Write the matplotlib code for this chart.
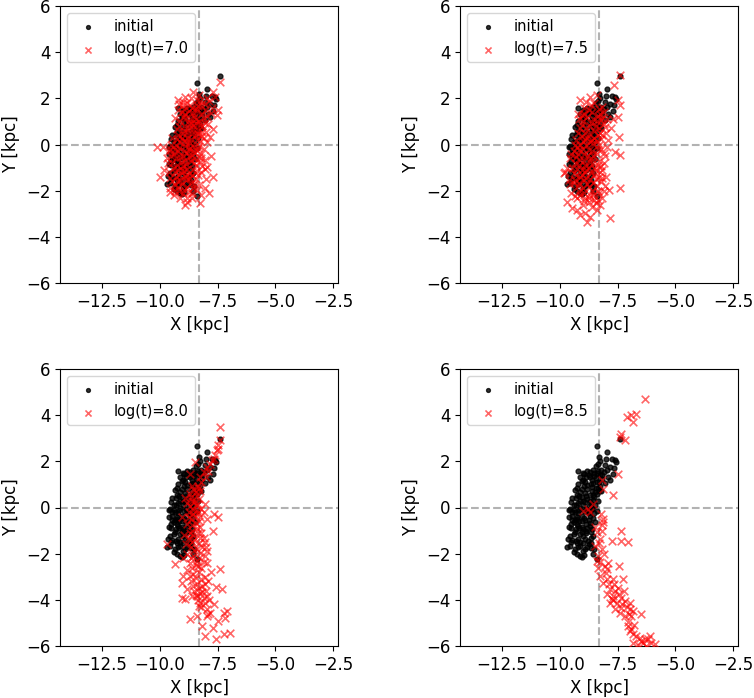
import matplotlib
matplotlib.use("Agg")
import matplotlib.pyplot as plt

plt.rcParams["font.size"] = 12

# position du Soleil
x_sun = -8.3

# positions initiales (communes aux 4 panneaux)
initial_pts = [
    (-7.40, 2.96), (-8.37, 2.67), (-7.97, 2.41), (-8.29, 2.19), (-7.59, 2.07), (-7.57, 1.97),
    (-7.76, 2.12), (-8.26, 2.01), (-8.33, 1.90), (-7.83, 1.75), (-7.66, 1.71), (-8.05, 1.85),
    (-8.45, 1.78), (-8.20, 1.62), (-9.19, 1.60), (-8.83, 1.60), (-8.69, 1.55), (-8.54, 1.62),
    (-8.40, 1.50), (-8.10, 1.55), (-7.95, 1.62), (-8.00, 2.10),
    (-7.69, 1.46), (-7.93, 1.32), (-7.83, 1.17), (-8.19, 1.25), (-9.11, 1.32), (-8.97, 1.17),
    (-9.19, 1.03), (-8.83, 0.96), (-8.50, 1.35), (-8.30, 1.10), (-8.62, 1.20), (-8.05, 1.05),
    (-8.75, 1.40), (-8.95, 1.45), (-8.42, 1.28), (-8.15, 1.40), (-8.55, 1.05), (-8.25, 1.42),
    (-9.04, 0.81), (-8.61, 0.88), (-8.47, 0.67), (-8.69, 0.52), (-9.26, 0.52), (-8.90, 0.62),
    (-8.35, 0.85), (-8.20, 0.72), (-8.80, 0.78), (-9.10, 0.65), (-8.55, 0.55), (-8.40, 0.58),
    (-8.95, 0.92), (-9.35, 0.75), (-8.25, 0.95),
    (-9.11, 0.30), (-9.40, 0.09), (-8.97, 0.09), (-8.47, 0.09), (-9.20, 0.20), (-8.80, 0.35),
    (-8.65, 0.15), (-9.30, 0.40), (-8.90, 0.25), (-8.55, 0.32), (-9.05, 0.45), (-9.50, 0.25),
    (-8.35, 0.30), (-8.75, 0.05),
    (-9.54, -0.06), (-9.33, -0.20), (-9.47, -0.35), (-9.04, -0.35), (-8.83, -0.20), (-8.61, -0.06),
    (-9.15, -0.10), (-8.95, -0.45), (-8.70, -0.38), (-9.25, -0.42), (-8.50, -0.25), (-9.60, -0.40),
    (-8.85, -0.05), (-9.40, -0.10), (-8.40, -0.15),
    (-9.26, -0.49), (-9.61, -0.86), (-9.40, -0.64), (-9.19, -0.78), (-8.97, -0.93), (-8.69, -0.78),
    (-8.47, -0.64), (-9.50, -0.70), (-9.05, -0.60), (-8.85, -0.70), (-8.60, -0.95), (-9.30, -0.95),
    (-8.75, -0.55), (-9.45, -0.55), (-9.15, -0.90),
    (-9.40, -1.14), (-9.19, -1.36), (-8.97, -1.22), (-8.76, -1.43), (-8.54, -1.22), (-9.55, -1.25),
    (-9.05, -1.05), (-8.85, -1.10), (-9.30, -1.45), (-8.65, -1.05), (-9.10, -1.48), (-9.45, -1.40),
    (-9.54, -1.65), (-9.33, -1.80), (-9.11, -1.65), (-8.90, -1.80), (-9.40, -1.94), (-9.11, -2.09),
    (-9.04, -2.16), (-8.54, -2.01), (-8.40, -2.23), (-9.25, -1.55), (-8.75, -1.60), (-9.00, -1.90),
    (-9.68, -1.70), (-8.65, -1.75),
    (-9.00, 1.50), (-8.85, 1.30), (-8.65, 1.00), (-8.45, 0.85), (-8.30, 0.70), (-8.70, 1.30),
    (-9.05, 1.15), (-8.40, 1.10), (-9.25, 0.85), (-9.15, 0.50), (-8.85, 0.50), (-8.60, 0.70),
    (-8.50, 0.45), (-9.30, 0.10), (-9.00, 0.30), (-8.70, 0.30), (-8.60, 0.00), (-9.45, -0.20),
    (-9.20, -0.25), (-8.95, -0.15), (-8.75, -0.25), (-8.55, -0.45), (-9.35, -0.55), (-9.15, -0.60),
    (-8.90, -0.55), (-8.70, -0.65), (-9.50, -0.90), (-9.25, -0.70), (-9.05, -0.85), (-8.80, -0.90),
    (-9.35, -1.05), (-9.10, -1.15), (-8.90, -1.35), (-8.65, -1.30), (-9.50, -1.50), (-9.20, -1.70),
    (-9.00, -1.55), (-8.80, -1.70), (-9.25, -2.00), (-8.95, -2.05), (-9.60, -0.10), (-9.65, -1.35),
    (-8.50, 1.50), (-8.35, 1.60), (-8.90, 1.10), (-9.10, 0.00), (-8.85, -1.00), (-9.45, 0.40),
    (-8.65, -1.55), (-8.50, -1.80),
]

pts_7_0 = [
    (-10.12, -0.10), (-9.87, -0.10), (-9.97, -1.40), (-9.57, -1.90), (-9.40, -2.19), (-8.83, -2.48),
    (-8.90, -2.63), (-8.25, -2.55), (-8.03, -1.90), (-7.85, -2.12), (-7.68, -1.40), (-7.97, -0.96),
    (-8.03, -0.68), (-7.82, 0.32), (-7.68, 0.68), (-7.54, 1.27), (-7.46, 1.49), (-7.61, 2.07),
    (-7.68, 2.29), (-7.39, 2.72), (-9.19, 1.92), (-9.33, 1.13), (-9.26, 0.69), (-8.54, 2.29),
    (-8.40, 1.92), (-9.70, -0.60), (-9.80, -1.10), (-9.55, -2.05), (-8.20, -2.20), (-7.80, -0.50),
    (-7.90, 0.90), (-7.75, 1.60), (-9.45, 0.30), (-9.60, -0.30), (-8.00, -1.50), (-9.10, -2.30),
    (-8.60, -2.30),
    (-9.20, 1.50), (-9.00, 1.70), (-8.80, 1.80), (-8.60, 1.60), (-8.40, 1.45), (-8.20, 1.70),
    (-8.05, 1.50), (-8.90, 1.30), (-8.70, 1.10), (-8.50, 1.20), (-8.30, 1.00), (-8.10, 1.15),
    (-9.10, 1.00), (-8.95, 0.80), (-8.75, 0.70), (-8.55, 0.85), (-8.35, 0.60), (-8.15, 0.80),
    (-9.20, 0.40), (-9.00, 0.50), (-8.80, 0.30), (-8.60, 0.45), (-8.40, 0.20), (-8.20, 0.35),
    (-9.30, 0.00), (-9.10, 0.10), (-8.90, -0.05), (-8.70, 0.05), (-8.50, -0.10), (-8.30, -0.05),
    (-9.40, -0.40), (-9.20, -0.30), (-9.00, -0.50), (-8.80, -0.35), (-8.60, -0.45), (-8.40, -0.30),
    (-8.20, -0.40), (-9.45, -0.80), (-9.25, -0.90), (-9.05, -0.75), (-8.85, -0.85), (-8.65, -0.70),
    (-8.45, -0.90), (-8.25, -0.75), (-9.35, -1.20), (-9.15, -1.30), (-8.95, -1.15), (-8.75, -1.25),
    (-8.55, -1.10), (-8.35, -1.30), (-9.25, -1.60), (-9.05, -1.70), (-8.85, -1.55), (-8.65, -1.65),
    (-8.45, -1.50), (-9.15, -2.00), (-8.95, -1.95), (-8.75, -2.05), (-8.55, -1.90), (-8.30, -1.75),
    (-8.90, 2.05), (-8.65, 2.00), (-8.30, 2.15), (-7.95, 2.00), (-7.80, 1.35), (-8.00, 0.55),
    (-7.95, 0.10), (-8.10, -0.20), (-8.05, -1.05), (-9.55, -1.45), (-9.35, -1.75), (-9.50, 0.00),
    (-9.00, 1.20), (-8.45, 0.95), (-8.70, -0.15), (-8.95, 0.15), (-8.85, -1.40), (-8.50, -0.60),
    (-8.80, 0.55), (-9.05, -1.10),
    (-9.15, 1.75), (-8.95, 1.55), (-8.75, 1.45), (-8.55, 1.35), (-8.35, 1.65), (-8.15, 1.30),
    (-9.05, 1.40), (-8.85, 1.15), (-8.65, 0.95), (-8.45, 1.10), (-8.25, 0.85), (-8.05, 0.95),
    (-9.15, 0.80), (-8.95, 0.60), (-8.75, 0.90), (-8.55, 0.65), (-8.35, 0.45), (-8.15, 0.55),
    (-9.25, 0.25), (-9.05, 0.30), (-8.85, 0.10), (-8.65, 0.25), (-8.45, 0.40), (-8.25, 0.15),
    (-9.35, -0.20), (-9.15, -0.15), (-8.95, -0.30), (-8.75, -0.20), (-8.55, -0.30), (-8.35, -0.15),
    (-9.30, -0.60), (-9.10, -0.55), (-8.90, -0.65), (-8.70, -0.55), (-8.50, -0.80), (-8.30, -0.55),
    (-9.40, -1.00), (-9.20, -1.10), (-9.00, -0.95), (-8.80, -1.05), (-8.60, -1.30), (-8.40, -1.15),
    (-9.30, -1.40), (-9.10, -1.55), (-8.90, -1.35), (-8.70, -1.45), (-8.50, -1.70), (-9.20, -1.85),
    (-9.00, -2.10), (-8.80, -1.85), (-8.60, -2.10), (-8.40, -1.95), (-9.45, -1.60), (-9.60, -1.20),
    (-9.65, -0.80), (-9.55, -0.20), (-8.20, -1.20), (-8.15, -0.95), (-8.25, 1.90), (-8.05, 1.75),
    (-7.85, 1.90), (-7.95, 1.25), (-8.10, 0.30), (-8.20, -0.60), (-9.00, 1.85), (-8.70, 1.70),
    (-8.45, 1.60), (-8.80, -2.30), (-9.35, -2.00), (-9.50, -0.50),
]

pts_7_5 = [
    (-7.39, 3.01), (-7.64, 2.58), (-7.46, 1.93), (-7.41, 1.71), (-7.49, 1.21), (-7.43, 0.34),
    (-7.39, -0.45), (-7.60, -0.31), (-7.39, -1.89), (-7.86, -1.97), (-7.82, -3.19), (-7.99, -1.39),
    (-8.10, -0.81), (-8.39, -2.83), (-8.42, -2.54), (-8.68, -3.12), (-8.82, -3.34), (-8.89, -2.98),
    (-9.11, -3.05), (-9.25, -2.83), (-9.47, -2.76), (-9.66, -2.47), (-9.83, -1.24), (-9.76, -1.17),
    (-9.61, -1.53), (-9.40, -1.68), (-9.25, -2.33), (-9.04, 1.28), (-9.11, 1.93), (-8.68, 2.07),
    (-8.39, 2.15), (-8.18, 1.64), (-7.90, 0.20), (-7.95, -0.10), (-8.05, -1.80), (-8.15, -2.30),
    (-8.60, -2.70), (-9.00, -2.60), (-9.70, -1.00), (-9.55, -0.60), (-7.70, 1.10), (-7.80, 0.70),
    (-9.20, 1.30), (-9.00, 1.00), (-8.80, 1.20), (-8.60, 1.40), (-8.40, 1.00), (-8.25, 1.30),
    (-8.10, 0.90), (-9.10, 0.70), (-8.90, 0.50), (-8.70, 0.80), (-8.50, 0.60), (-8.30, 0.70),
    (-8.15, 0.40), (-9.30, 0.20), (-9.10, 0.00), (-8.90, 0.20), (-8.70, 0.10), (-8.50, 0.30),
    (-8.30, 0.00), (-9.40, -0.30), (-9.20, -0.40), (-9.00, -0.20), (-8.80, -0.50), (-8.60, -0.30),
    (-8.40, -0.40), (-8.20, -0.20), (-9.35, -0.80), (-9.15, -0.90), (-8.95, -0.70), (-8.75, -1.00),
    (-8.55, -0.80), (-8.35, -0.90), (-8.15, -1.10), (-9.30, -1.30), (-9.10, -1.40), (-8.90, -1.20),
    (-8.70, -1.50), (-8.50, -1.30), (-8.30, -1.40), (-9.20, -1.80), (-9.00, -1.90), (-8.80, -1.70),
    (-8.60, -2.00), (-8.40, -1.80), (-8.20, -1.60), (-9.10, -2.20), (-8.90, -2.30), (-8.70, -2.20),
    (-8.50, -2.40), (-8.30, -2.10), (-9.45, -1.00), (-9.50, -2.10), (-8.95, 1.60), (-8.50, 1.80),
    (-8.10, 1.40), (-7.95, 1.10), (-8.00, 0.50), (-8.05, -0.50), (-8.25, -2.60), (-8.75, -2.50),
    (-8.85, 0.00), (-8.65, -0.60), (-9.05, -1.10), (-8.45, -1.10), (-8.85, -1.45), (-9.25, -0.10),
    (-8.55, 0.05), (-8.35, 0.40), (-8.75, 0.45), (-9.05, 0.35),
    (-9.15, 1.10), (-8.95, 1.30), (-8.75, 1.50), (-8.55, 1.10), (-8.35, 1.25), (-8.20, 1.05),
    (-9.05, 0.85), (-8.85, 0.70), (-8.65, 0.95), (-8.45, 0.80), (-8.25, 0.50), (-9.20, 0.50),
    (-9.00, 0.15), (-8.80, 0.30), (-8.60, 0.20), (-8.40, 0.15), (-8.20, 0.25), (-9.35, 0.00),
    (-9.15, -0.25), (-8.95, -0.40), (-8.75, -0.25), (-8.55, -0.50), (-8.35, -0.20), (-9.30, -0.55),
    (-9.10, -0.65), (-8.90, -0.90), (-8.70, -0.75), (-8.50, -1.00), (-8.30, -0.70), (-9.25, -1.05),
    (-9.05, -1.30), (-8.85, -1.10), (-8.65, -1.25), (-8.45, -1.50), (-8.25, -1.20), (-9.35, -1.55),
    (-9.15, -1.65), (-8.95, -1.55), (-8.75, -1.85), (-8.55, -1.65), (-8.35, -2.00), (-9.15, -2.00),
    (-8.95, -2.10), (-8.75, -2.30), (-8.55, -2.20), (-8.35, -2.40), (-9.40, -1.25), (-9.50, -0.40),
    (-9.55, -1.70), (-8.65, 1.70), (-8.85, 1.85), (-8.30, 1.55), (-8.15, 1.15), (-8.05, 0.75),
    (-8.10, -0.35), (-8.20, -0.95), (-8.15, -1.45), (-8.10, -2.00), (-8.95, -2.45), (-9.35, -2.25),
]

pts_8_0 = [
    (-7.39, 3.48), (-7.39, 2.93), (-7.46, 2.70), (-7.53, 2.48), (-7.60, 2.26), (-7.67, 2.12),
    (-7.82, 1.90), (-7.96, 1.75), (-8.10, 1.54), (-8.25, 1.32), (-8.46, 1.97), (-8.68, 1.46),
    (-7.75, 2.05), (-7.50, 2.55), (-7.90, 1.60), (-8.00, 1.30), (-8.20, 1.10), (-8.35, 0.95),
    (-8.70, 0.60), (-8.55, 0.80), (-8.40, 0.50), (-8.25, 0.70), (-8.80, 0.20), (-8.60, 0.30),
    (-8.45, 0.10), (-8.30, 0.35), (-8.75, -0.20), (-8.55, -0.10), (-8.35, -0.25), (-8.20, -0.05),
    (-8.65, -0.50), (-8.45, -0.40), (-8.80, -0.70), (-8.30, -0.60), (-7.67, -0.28), (-7.46, -0.42),
    (-7.96, -0.49), (-8.10, -0.20), (-8.05, 0.15), (-8.90, 0.40),
    (-8.60, -1.00), (-8.40, -0.90), (-8.20, -1.10), (-8.75, -1.30), (-8.50, -1.40), (-8.25, -1.30),
    (-8.05, -1.50), (-8.65, -1.70), (-8.40, -1.80), (-8.15, -1.70), (-7.95, -1.90), (-8.80, -2.00),
    (-8.55, -2.10), (-8.30, -2.20), (-8.05, -2.10), (-8.70, -2.40), (-8.45, -2.50), (-8.20, -2.60),
    (-7.95, -2.40), (-8.80, -2.70), (-8.55, -2.90), (-8.30, -2.80), (-8.05, -3.00), (-8.65, -3.20),
    (-8.40, -3.30), (-8.15, -3.40), (-7.90, -3.20), (-8.50, -3.60), (-8.25, -3.70), (-8.00, -3.60),
    (-8.35, -4.00), (-8.10, -3.90), (-7.85, -4.00), (-8.20, -4.30), (-7.95, -4.40),
    (-9.68, -1.58), (-9.32, -2.45), (-8.97, -2.96), (-9.04, -3.25), (-8.82, -3.54), (-8.61, -3.83),
    (-9.04, -3.90), (-8.89, -3.97), (-8.68, -4.84), (-8.18, -5.13), (-8.39, -4.70), (-8.03, -5.57),
    (-7.56, -5.68), (-7.24, -5.49), (-6.95, -5.42), (-7.10, -4.48), (-7.24, -4.55), (-7.17, -4.77),
    (-7.39, -2.67), (-7.31, -3.54), (-7.56, -3.46), (-7.67, -4.19), (-7.82, -4.55), (-7.96, -4.70),
    (-8.25, -4.12), (-8.39, -3.83), (-9.00, -2.20), (-8.95, -1.20), (-9.05, -0.40), (-7.80, -2.80),
    (-7.70, -1.00), (-7.50, -4.90), (-7.70, -5.20), (-8.85, -1.60),
    (-8.60, 0.95), (-8.45, 0.65), (-8.30, 0.85), (-8.65, 0.45), (-8.50, 0.25), (-8.35, 0.15),
    (-8.70, 0.05), (-8.55, -0.30), (-8.40, -0.10), (-8.25, -0.40), (-8.75, -0.40), (-8.60, -0.75),
    (-8.45, -0.65), (-8.25, -0.85), (-8.70, -1.10), (-8.55, -1.20), (-8.35, -1.10), (-8.10, -1.30),
    (-8.60, -1.50), (-8.30, -1.55), (-8.00, -1.70), (-8.50, -1.85), (-8.25, -1.95), (-8.65, -2.20),
    (-8.40, -2.30), (-8.10, -2.35), (-8.60, -2.60), (-8.35, -2.55), (-8.70, -2.95), (-8.45, -3.05),
    (-8.20, -3.10), (-8.55, -3.40), (-8.30, -3.50), (-8.05, -3.30), (-8.45, -3.80), (-8.15, -3.65),
    (-7.95, -3.85), (-8.30, -4.25), (-8.05, -4.15), (-7.90, -4.60),
]

pts_8_5 = [
    (-6.33, 4.72), (-6.69, 4.07), (-6.90, 4.00), (-7.11, 3.93), (-6.83, 3.71), (-7.33, 3.20),
    (-7.40, 3.06), (-7.19, 2.91), (-7.47, 1.46), (-7.69, 0.52), (-8.19, 1.17), (-8.11, 0.81),
    (-8.54, 0.16), (-8.69, -0.20), (-8.14, -0.49), (-8.19, -1.00), (-8.40, -1.07), (-8.26, -1.36),
    (-8.19, -1.80), (-8.33, -2.09), (-8.47, -1.65), (-7.37, -1.00), (-7.36, -1.43), (-7.04, -1.51),
    (-7.76, -1.43), (-7.44, -2.55), (-8.40, -2.30), (-8.26, -2.38), (-8.04, -2.52), (-7.97, -2.67),
    (-8.26, -2.96), (-8.11, -3.25), (-7.97, -3.10), (-7.69, -3.10), (-7.26, -3.10), (-7.83, -3.54),
    (-7.97, -3.75), (-7.69, -3.83), (-7.54, -4.12), (-7.33, -3.90), (-7.19, -4.04), (-7.83, -4.12),
    (-7.61, -4.41), (-7.40, -4.55), (-6.97, -4.41), (-6.90, -4.70), (-7.19, -4.70), (-6.47, -4.62),
    (-7.04, -5.13), (-6.97, -5.35), (-6.83, -5.49), (-6.90, -5.28), (-6.69, -5.57), (-6.54, -5.64),
    (-6.40, -5.86), (-6.19, -5.71), (-6.04, -5.86), (-5.90, -5.93), (-6.11, -5.57), (-6.26, -6.00),
    (-6.83, -5.86), (-6.61, -5.97), (-8.76, -0.06), (-8.97, -0.13), (-8.47, -0.86), (-8.11, -0.64),
    (-8.20, -0.30), (-8.15, -0.75), (-8.30, -1.55), (-8.10, -2.00), (-8.35, -2.60), (-8.00, -2.85),
    (-7.85, -3.30), (-7.60, -3.60), (-7.45, -3.75), (-7.30, -4.20), (-7.10, -4.30), (-7.00, -4.60),
    (-7.50, -3.50), (-7.75, -3.95), (-7.05, -4.95), (-6.80, -5.10), (-6.95, -4.15), (-7.65, -3.30),
    (-7.90, -2.40), (-7.70, -4.00), (-6.50, -5.80), (-6.30, -5.70), (-7.20, -3.60), (-7.35, -4.35),
    (-6.85, -4.50),
]

etapes = ["log(t)=7.0", "log(t)=7.5", "log(t)=8.0", "log(t)=8.5"]
series = [pts_7_0, pts_7_5, pts_8_0, pts_8_5]

fig = plt.figure(figsize=(7.54, 6.98), dpi=100)
# positions des axes (en fraction de la figure)
positions = [
    (60 / 754, 1 - 283 / 698, 278 / 754, 277 / 698),
    (460 / 754, 1 - 283 / 698, 278 / 754, 277 / 698),
    (60 / 754, 1 - 646 / 698, 278 / 754, 277 / 698),
    (460 / 754, 1 - 646 / 698, 278 / 754, 277 / 698),
]

x0 = [p[0] for p in initial_pts]
y0 = [p[1] for p in initial_pts]

for pos, label, pts in zip(positions, etapes, series):
    ax = fig.add_axes(pos)
    ax.axvline(x_sun, color="gray", ls="--", alpha=0.6, lw=1.5, zorder=0)
    ax.axhline(0, color="gray", ls="--", alpha=0.6, lw=1.5, zorder=0)
    ax.scatter(x0, y0, s=12, c="k", alpha=0.8, label="initial", zorder=2)
    ax.scatter([p[0] for p in pts], [p[1] for p in pts], s=30, c="r", marker="x",
               alpha=0.6, linewidths=1.2, label=label, zorder=3)
    ax.set_xlim(x_sun - 6, x_sun + 6)
    ax.set_ylim(-6, 6)
    ax.set_xticks([-12.5, -10.0, -7.5, -5.0, -2.5])
    ax.set_yticks([-6, -4, -2, 0, 2, 4, 6])
    ax.set_xlabel("X [kpc]")
    ax.set_ylabel("Y [kpc]")
    ax.legend(loc="upper left", scatterpoints=1, fontsize=10.5, markerscale=0.8)

plt.savefig("out.png", dpi=100)
plt.close()
